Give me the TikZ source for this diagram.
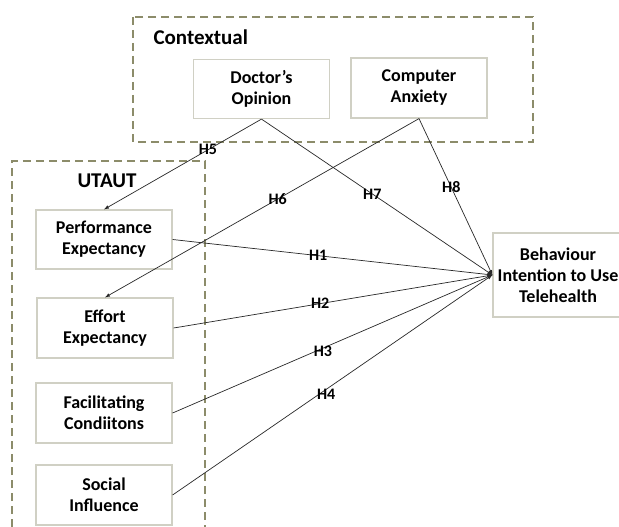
\documentclass[tikz,border=0pt]{standalone}
\usepackage{fontspec}
\setmainfont{Carlito}
\usepackage{tikz}
\usetikzlibrary{calc}
\usetikzlibrary{arrows}
\definecolor{boxline}{RGB}{208,208,196}
\definecolor{olive}{RGB}{140,140,106}
\definecolor{ink}{RGB}{40,40,40}
\tikzstyle{every node}=[font=\bfseries\fontsize{18}{21}\selectfont]
\tikzstyle{construct}=[draw=boxline, line width=1.2pt, minimum width=136pt, minimum height=59pt, align=center, inner sep=0pt]
\tikzstyle{group}=[draw=olive, line width=1.4pt, dash pattern=on 8pt off 5pt]
\tikzstyle{path}=[draw=ink, line width=.7pt]
\tikzstyle{hyp}=[font=\bfseries\fontsize{16}{18}\selectfont, inner sep=0pt]
\tikzstyle{title}=[font=\bfseries\fontsize{21}{24}\selectfont]

\begin{document}
\begin{tikzpicture}[x=1pt, y=-1pt]

                \clip (0, 0) rectangle (619, 527);
                \useasboundingbox (0, 0) rectangle (619, 527);
                \fill[white] (0, 0) rectangle (619, 527);

                % groups
                \draw[group] (133, 17) rectangle (533, 142);
                \draw[group] (12, 540) -- (12, 161) -- (205, 161) -- (205, 540);
                \node [title, anchor=west] at (150, 37) {Contextual};
                \node [title] at (107, 181) {UTAUT};

                \coordinate (D) at (261.5, 89);
                \coordinate (C) at (419, 88);
                \coordinate (P) at (104, 239.5);
                \coordinate (E) at (105, 328);
                \coordinate (F) at (104, 413);
                \coordinate (S) at (104, 495);
                \coordinate (B) at (558, 275);

                \node [construct] (doc) at (D) {Doctor’s\\Opinion};
                \node [construct, minimum height=60pt] (anx) at (C) {Computer\\Anxiety};
                \node [construct] (pe) at (P) {Performance\\Expectancy};
                \node [construct, minimum height=60pt] (ee) at (E) {Effort\\Expectancy};
                \node [construct, minimum height=60pt] (fc) at (F) {Facilitating\\Condiitons};
                \node [construct, minimum height=60pt] (si) at (S) {Social\\Influence};
                \node [construct, minimum width=130pt, minimum height=84pt] (bi) at (B) {Behaviour\\Intention to Use\\Telehealth};

                % hypotheses
                \draw[path, -latex] (doc.south) -- (pe.north) node [hyp, pos=.34] {H5};
                \draw[path, -latex] (anx.south) -- (ee.north) node [hyp, pos=.45] {H6};
                \draw[path, -latex] (doc.south) -- (bi.west) node [hyp, pos=.48] {H7};
                \draw[path, -latex] (anx.south) -- (bi.west) node [hyp, pos=.44] {H8};
                \draw[path, -latex] (pe.east) -- (bi.west) node [hyp, pos=.455] {H1};
                \draw[path, -latex] (ee.east) -- (bi.west) node [hyp, pos=.46] {H2};
                \draw[path, -latex] (fc.east) -- (bi.west) node [hyp, pos=.47, yshift=-3pt] {H3};
                \draw[path, -latex] (si.east) -- (bi.west) node [hyp, pos=.48, yshift=-5pt] {H4};

            \end{tikzpicture}
\end{document}
